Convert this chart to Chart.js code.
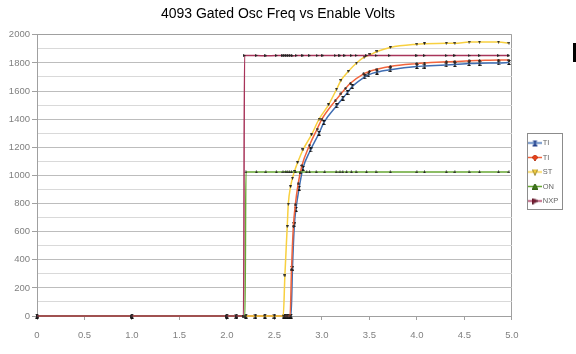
<!DOCTYPE html>
<html>
<head>
<meta charset="utf-8">
<script src="https://cdn.jsdelivr.net/npm/chart.js@4.4.1/dist/chart.umd.min.js"></script>
<style>
  html, body { margin: 0; padding: 0; background: #fff; }
  #wrap { position: relative; width: 576px; height: 354px; }
  #edgeMark { position: absolute; left: 573px; top: 43px; width: 3px; height: 19px; background: #000; }
</style>
</head>
<body>
<div id="wrap">
  <canvas id="chart" width="576" height="354"></canvas>
  <div id="edgeMark"></div>
</div>
<script>
// Enable volts (x) and output frequency (y) for each part
const tiBlueVolts = [0, 1, 2, 2.1, 2.2, 2.3, 2.4, 2.5, 2.6, 2.62, 2.64, 2.66, 2.675, 2.69, 2.71, 2.726, 2.76, 2.80, 2.88, 2.97, 3.02, 3.155, 3.22, 3.27, 3.32, 3.45, 3.49, 3.58, 3.72, 4.0, 4.08, 4.31, 4.4, 4.55, 4.66, 4.86, 4.97];
const tiBlueFreq  = [0, 0, 0, 0, 0, 0, 0, 0, 0, 0, 0, 0, 0, 339, 648, 759, 909, 1050, 1181, 1300, 1376, 1495, 1549, 1590, 1632, 1700, 1715, 1735, 1752, 1775, 1778, 1786, 1788, 1795, 1798, 1800, 1803];

const tiRedVolts = [0, 1, 2, 2.1, 2.2, 2.3, 2.4, 2.5, 2.6, 2.62, 2.64, 2.665, 2.68, 2.70, 2.72, 2.75, 2.79, 2.87, 2.95, 3.0, 3.14, 3.2, 3.25, 3.3, 3.44, 3.5, 3.58, 3.72, 4.0, 4.08, 4.31, 4.4, 4.55, 4.66, 4.86, 4.97];
const tiRedFreq  = [0, 0, 0, 0, 0, 0, 0, 0, 0, 0, 0, 0, 330, 640, 790, 940, 1070, 1215, 1330, 1400, 1530, 1580, 1620, 1655, 1722, 1740, 1755, 1775, 1795, 1799, 1808, 1810, 1815, 1817, 1820, 1820];

const stVolts = [0, 1, 2, 2.1, 2.2, 2.3, 2.4, 2.5, 2.593, 2.61, 2.635, 2.646, 2.67, 2.69, 2.71, 2.744, 2.80, 2.89, 2.97, 3.07, 3.155, 3.2, 3.277, 3.365, 3.445, 3.505, 3.58, 3.72, 4.0, 4.08, 4.31, 4.4, 4.55, 4.66, 4.86, 4.97];
const stFreq  = [0, 0, 0, 0, 0, 0, 0, 0, 0, 285, 636, 795, 920, 980, 1027, 1091, 1181, 1288, 1400, 1502, 1613, 1675, 1739, 1799, 1841, 1857, 1881, 1910, 1933, 1936, 1940, 1940, 1948, 1948, 1948, 1940];

const onVolts = [0, 1, 2, 2.1, 2.19, 2.2, 2.31, 2.41, 2.52, 2.59, 2.62, 2.64, 2.66, 2.68, 2.72, 2.77, 2.84, 2.87, 2.94, 3.03, 3.15, 3.19, 3.22, 3.26, 3.31, 3.36, 3.47, 3.57, 3.72, 4.0, 4.08, 4.31, 4.4, 4.55, 4.66, 4.86, 4.97];
const onFreq  = [0, 0, 0, 0, 0, 1025, 1025, 1025, 1025, 1025, 1026, 1025, 1025, 1025, 1025, 1024, 1025, 1025, 1025, 1025, 1025, 1025, 1025, 1025, 1025, 1025, 1025, 1025, 1025, 1025, 1025, 1025, 1025, 1025, 1025, 1025, 1025];

const nxpVolts = [0, 1, 2, 2.1, 2.175, 2.185, 2.31, 2.41, 2.52, 2.59, 2.61, 2.63, 2.65, 2.67, 2.69, 2.73, 2.80, 2.87, 2.95, 3.01, 3.14, 3.19, 3.24, 3.31, 3.36, 3.47, 3.57, 3.71, 4.0, 4.08, 4.31, 4.4, 4.55, 4.66, 4.86, 4.97];
const nxpFreq  = [0, 0, 0, 0, 0, 1852, 1852, 1851, 1852, 1852, 1853, 1852, 1852, 1852, 1851, 1852, 1852, 1852, 1852, 1852, 1852, 1852, 1852, 1852, 1853, 1852, 1852, 1852, 1852, 1852, 1852, 1853, 1852, 1852, 1852, 1852];

const seriesNames = ['TI', 'TI', 'ST', 'ON', 'NXP'];
const xTickStep = 0.5;
const yTickStep = 100;

Chart.defaults.font.family = "'Liberation Sans', Arial, sans-serif";

// small marker bitmaps, used as point styles
function makeMarker(shape, fill, w, h, stroke) {
    const c = document.createElement('canvas');
    c.width = w;
    c.height = h;
    const g = c.getContext('2d');
    g.fillStyle = fill;
    g.beginPath();
    if (shape === 'hourglass') {
        g.moveTo(0, 0); g.lineTo(w, 0); g.lineTo(0, h); g.lineTo(w, h);
    } else if (shape === 'diamond') {
        g.moveTo(w / 2, 0); g.lineTo(w, h / 2); g.lineTo(w / 2, h); g.lineTo(0, h / 2);
    } else if (shape === 'down') {
        g.moveTo(0, 0); g.lineTo(w, 0); g.lineTo(w / 2, h);
    } else if (shape === 'up') {
        g.moveTo(w / 2, 0); g.lineTo(w, h); g.lineTo(0, h);
    } else if (shape === 'right') {
        g.moveTo(0, 0); g.lineTo(w, h / 2); g.lineTo(0, h);
    }
    g.closePath();
    g.fill();
    if (stroke) {
        g.strokeStyle = stroke;
        g.lineWidth = 0.8;
        g.stroke();
    }
    return c;
}

function makeLegendIcon(shape, lineColor, markColor, outline) {
    const c = document.createElement('canvas');
    c.width = 14;
    c.height = 9;
    const g = c.getContext('2d');
    g.strokeStyle = lineColor;
    g.lineWidth = 1.5;
    g.beginPath();
    g.moveTo(0, 4.5);
    g.lineTo(14, 4.5);
    g.stroke();
    g.drawImage(makeMarker(shape, markColor, 6, 6, outline), 4, 1.5);
    return c;
}

const styles = [
    { line: '#3f6db2', mark: makeMarker('hourglass', '#111', 4, 5), icon: makeLegendIcon('hourglass', '#3f6db2', '#1f3d8a') },
    { line: '#f2643c', mark: makeMarker('diamond', '#222', 3, 3), icon: makeLegendIcon('diamond', '#f2643c', '#e8401a', '#b03010') },
    { line: '#f8d040', mark: makeMarker('down', '#222', 3, 3), icon: makeLegendIcon('down', '#f8d040', '#f8d040', '#807020') },
    { line: '#68a834', mark: makeMarker('up', '#222', 3, 3), icon: makeLegendIcon('up', '#68a834', '#3f7a1a', '#2a5010') },
    { line: '#a8345a', mark: makeMarker('right', '#222', 3, 3), icon: makeLegendIcon('right', '#a8345a', '#7a1c34', '#4a0f20') }
];

const voltsList = [tiBlueVolts, tiRedVolts, stVolts, onVolts, nxpVolts];
const freqList = [tiBlueFreq, tiRedFreq, stFreq, onFreq, nxpFreq];

const datasets = seriesNames.map((name, i) => ({
    label: name,
    data: voltsList[i].map((v, k) => ({ x: v, y: freqList[i][k] })),
    showLine: true,
    borderColor: styles[i].line,
    backgroundColor: styles[i].line,
    borderWidth: 1.5,
    pointStyle: styles[i].mark,
    pointRadius: 2,
    cubicInterpolationMode: 'monotone',
    order: seriesNames.length - 1 - i, // later series drawn on top, like the original
    clip: false
}));

// puts the legend where the original had it and draws its frame
const legendFrame = {
    id: 'legendFrame',
    afterLayout(chart) {
        const lg = chart.legend;
        const w = lg.width;
        lg.left = 524;
        lg.right = 524 + w;
        lg.top = 132.25;
        lg.bottom = 132.25 + 79.5;
        lg.height = 79.5;
    },
    afterDraw(chart) {
        const ctx = chart.ctx;
        ctx.save();
        ctx.strokeStyle = '#8c8c8c';
        ctx.lineWidth = 1;
        ctx.strokeRect(527.5, 133.5, 35, 76);
        ctx.restore();
    }
};

const tickFont = { size: 9.5 };
const axisGrey = '#a0a0a0';

new Chart(document.getElementById('chart'), {
    type: 'scatter',
    data: { datasets: datasets },
    plugins: [legendFrame],
    options: {
        responsive: false,
        animation: false,
        devicePixelRatio: 1,
        layout: { padding: { left: 0, right: 20, top: 0, bottom: 0 } },
        plugins: {
            tooltip: { enabled: false },
            title: {
                display: true,
                text: '4093 Gated Osc Freq vs Enable Volts',
                color: '#000',
                font: { size: 14, weight: 'normal' },
                padding: { top: 6, bottom: 12 }
            },
            legend: {
                position: 'right',
                labels: {
                    usePointStyle: true,
                    pointStyleWidth: 8,
                    padding: 7,
                    color: '#666',
                    font: { size: 7.5 },
                    generateLabels(chart) {
                        const items = Chart.defaults.plugins.legend.labels.generateLabels(chart);
                        items.sort((a, b) => a.datasetIndex - b.datasetIndex);
                        items.forEach(it => { it.pointStyle = styles[it.datasetIndex].icon; });
                        return items;
                    }
                }
            }
        },
        scales: {
            x: {
                type: 'linear',
                min: 0,
                max: 5,
                afterFit(s) { s.height = 38; },
                ticks: { stepSize: xTickStep, autoSkip: false, maxRotation: 0, color: '#808080', font: tickFont, padding: 10 },
                grid: {
                    color: c => (c.tick && c.tick.value === 5) ? axisGrey : 'rgba(0,0,0,0)',
                    tickColor: axisGrey,
                    tickLength: 4
                },
                border: { color: axisGrey }
            },
            y: {
                min: 0,
                max: 2000,
                afterFit(s) { s.width = 37; },
                ticks: {
                    stepSize: yTickStep,
                    autoSkip: false,
                    color: '#808080',
                    font: tickFont,
                    padding: 2,
                    callback: v => (v % 200 === 0 ? v : '')
                },
                grid: {
                    color: c => {
                        const v = c.tick ? c.tick.value : 0;
                        if (v === 2000) return axisGrey;
                        return v % 200 === 0 ? '#bdbdbd' : '#d9d9d9';
                    },
                    tickColor: c => (c.tick && c.tick.value % 200 === 0) ? axisGrey : 'rgba(0,0,0,0)',
                    tickLength: 5
                },
                border: { color: axisGrey }
            }
        }
    }
});
</script>
</body>
</html>
